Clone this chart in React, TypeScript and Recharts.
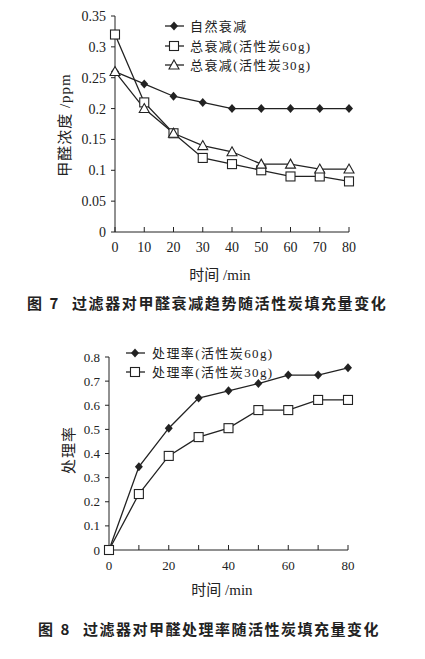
import React from "react";
import { LineChart, Line, XAxis, YAxis } from "recharts";

// 图7 data
const TIME = [0, 10, 20, 30, 40, 50, 60, 70, 80];
const NATURAL = [0.26, 0.24, 0.22, 0.21, 0.2, 0.2, 0.2, 0.2, 0.2];
const TOTAL_60G = [0.32, 0.21, 0.16, 0.12, 0.11, 0.1, 0.09, 0.09, 0.082];
const TOTAL_30G = [0.26, 0.2, 0.16, 0.14, 0.13, 0.11, 0.11, 0.102, 0.102];
const Y1_TICKS = [0, 0.05, 0.1, 0.15, 0.2, 0.25, 0.3, 0.35];

// 图8 data
const RATE_60G = [0, 0.345, 0.505, 0.63, 0.66, 0.69, 0.725, 0.725, 0.755];
const RATE_30G = [0, 0.232, 0.39, 0.468, 0.505, 0.58, 0.58, 0.622, 0.622];
const Y2_TICKS = [0, 0.1, 0.2, 0.3, 0.4, 0.5, 0.6, 0.7, 0.8];
const X2_LABELS = [0, 20, 40, 60, 80];

const NAMES1 = ["自然衰减", "总衰减(活性炭60g)", "总衰减(活性炭30g)"];
const NAMES2 = ["处理率(活性炭60g)", "处理率(活性炭30g)"];

const data1 = TIME.map((t, i) => ({ t, a: NATURAL[i], b: TOTAL_60G[i], c: TOTAL_30G[i] }));
const data2 = TIME.map((t, i) => ({ t, a: RATE_60G[i], b: RATE_30G[i] }));

const INK = "#222";
const SERIF = '"Liberation Serif", "Noto Sans CJK SC", serif';
const CAPTION = '"Noto Sans CJK SC", sans-serif';

const Diamond = ({ cx, cy }: any) =>
  cx == null ? null : (
    <path d={`M${cx},${cy - 4.5}L${cx + 4},${cy}L${cx},${cy + 4.5}L${cx - 4},${cy}Z`} fill={INK} />
  );
const Square = ({ cx, cy }: any) =>
  cx == null ? null : (
    <rect x={cx - 4.5} y={cy - 4.5} width={9} height={9} fill="#fff" stroke={INK} strokeWidth={1.1} />
  );
const Triangle = ({ cx, cy }: any) =>
  cx == null ? null : (
    <path d={`M${cx},${cy - 5}L${cx + 5},${cy + 4}L${cx - 5},${cy + 4}Z`} fill="#fff" stroke={INK} strokeWidth={1.1} />
  );

const fmt = (v: number) => String(v);

function LegendRow({ y, x, textX, Marker, label, size }: any) {
  return (
    <g>
      <line x1={x - 9} x2={x + 10} y1={y} y2={y} stroke={INK} strokeWidth={1.3} />
      <Marker cx={x} cy={y} />
      <text x={textX} y={y + 4.5} fontSize={size} fill={INK} fontFamily={SERIF} letterSpacing={1.4}>
        {label}
      </text>
    </g>
  );
}

export default function App() {
  return (
    <div style={{ position: "fixed", left: 0, top: 0, width: 425, height: 659, background: "#fff", color: INK }}>
      {/* 图7 */}
      <div style={{ position: "absolute", left: 0, top: 0 }}>
        <LineChart width={425} height={290} data={data1} margin={{ top: 16, right: 76, left: 0, bottom: 28 }}>
          <XAxis
            dataKey="t"
            type="number"
            domain={[0, 80]}
            ticks={TIME}
            height={30}
            stroke={INK}
            tickSize={-5}
            tickMargin={15}
            tick={{ fill: INK, fontSize: 14, fontFamily: SERIF }}
            tickFormatter={fmt}
          />
          <YAxis
            type="number"
            domain={[0, 0.35]}
            ticks={Y1_TICKS}
            width={115}
            stroke={INK}
            tickSize={4}
            tickMargin={5}
            tick={{ fill: INK, fontSize: 14, fontFamily: SERIF }}
            tickFormatter={fmt}
          />
          <Line dataKey="a" name={NAMES1[0]} stroke={INK} strokeWidth={1.3} dot={<Diamond />} isAnimationActive={false} />
          <Line dataKey="b" name={NAMES1[1]} stroke={INK} strokeWidth={1.3} dot={<Square />} isAnimationActive={false} />
          <Line dataKey="c" name={NAMES1[2]} stroke={INK} strokeWidth={1.3} dot={<Triangle />} isAnimationActive={false} />
        </LineChart>
      </div>
      <svg style={{ position: "absolute", left: 0, top: 0 }} width={425} height={80}>
        <LegendRow y={26} x={174} textX={190} Marker={Diamond} label={NAMES1[0]} size={13} />
        <LegendRow y={46} x={174} textX={190} Marker={Square} label={NAMES1[1]} size={13} />
        <LegendRow y={65} x={174} textX={190} Marker={Triangle} label={NAMES1[2]} size={13} />
      </svg>
      <div
        style={{
          position: "absolute", left: 63, top: 125, transform: "translate(-50%, -50%) rotate(-90deg)",
          whiteSpace: "nowrap", fontFamily: SERIF, fontSize: 15, letterSpacing: 1,
        }}
      >
        甲醛浓度 /ppm
      </div>
      <div
        style={{
          position: "absolute", left: 220, top: 273, transform: "translate(-50%, -50%)",
          whiteSpace: "nowrap", fontFamily: SERIF, fontSize: 15,
        }}
      >
        时间 /min
      </div>
      <div style={{ position: "absolute", left: 27, top: 292, fontFamily: CAPTION, fontWeight: 700, fontSize: 15, letterSpacing: 2, whiteSpace: "nowrap" }}>
        图 7
      </div>
      <div style={{ position: "absolute", left: 72, top: 292, fontFamily: CAPTION, fontWeight: 700, fontSize: 15, letterSpacing: 1.6, whiteSpace: "nowrap" }}>
        过滤器对甲醛衰减趋势随活性炭填充量变化
      </div>

      {/* 图8 */}
      <div style={{ position: "absolute", left: 0, top: 330 }}>
        <LineChart width={425} height={260} data={data2} margin={{ top: 27, right: 77, left: 0, bottom: 10 }}>
          <XAxis
            dataKey="t"
            type="number"
            domain={[0, 80]}
            ticks={TIME}
            height={30}
            stroke={INK}
            tickSize={-5}
            tickMargin={16}
            interval={0}
            tick={{ fill: INK, fontSize: 13, fontFamily: SERIF }}
            tickFormatter={(v: number) => (X2_LABELS.includes(v) ? String(v) : "")}
          />
          <YAxis
            type="number"
            domain={[0, 0.8]}
            ticks={Y2_TICKS}
            width={109}
            stroke={INK}
            tickSize={4}
            tickMargin={5}
            tick={{ fill: INK, fontSize: 13, fontFamily: SERIF }}
            tickFormatter={fmt}
          />
          <Line dataKey="a" name={NAMES2[0]} stroke={INK} strokeWidth={1.3} dot={<Diamond />} isAnimationActive={false} />
          <Line dataKey="b" name={NAMES2[1]} stroke={INK} strokeWidth={1.3} dot={<Square />} isAnimationActive={false} />
        </LineChart>
      </div>
      <svg style={{ position: "absolute", left: 0, top: 330 }} width={425} height={60}>
        <LegendRow y={23} x={135} textX={152} Marker={Diamond} label={NAMES2[0]} size={13} />
        <LegendRow y={42} x={135} textX={152} Marker={Square} label={NAMES2[1]} size={13} />
      </svg>
      <div
        style={{
          position: "absolute", left: 67, top: 450, transform: "translate(-50%, -50%) rotate(-90deg)",
          whiteSpace: "nowrap", fontFamily: SERIF, fontSize: 15, letterSpacing: 1,
        }}
      >
        处理率
      </div>
      <div
        style={{
          position: "absolute", left: 222, top: 588, transform: "translate(-50%, -50%)",
          whiteSpace: "nowrap", fontFamily: SERIF, fontSize: 15,
        }}
      >
        时间 /min
      </div>
      <div style={{ position: "absolute", left: 38, top: 618, fontFamily: CAPTION, fontWeight: 700, fontSize: 15, letterSpacing: 2, whiteSpace: "nowrap" }}>
        图 8
      </div>
      <div style={{ position: "absolute", left: 83, top: 618, fontFamily: CAPTION, fontWeight: 700, fontSize: 15, letterSpacing: 1.5, whiteSpace: "nowrap" }}>
        过滤器对甲醛处理率随活性炭填充量变化
      </div>
    </div>
  );
}
